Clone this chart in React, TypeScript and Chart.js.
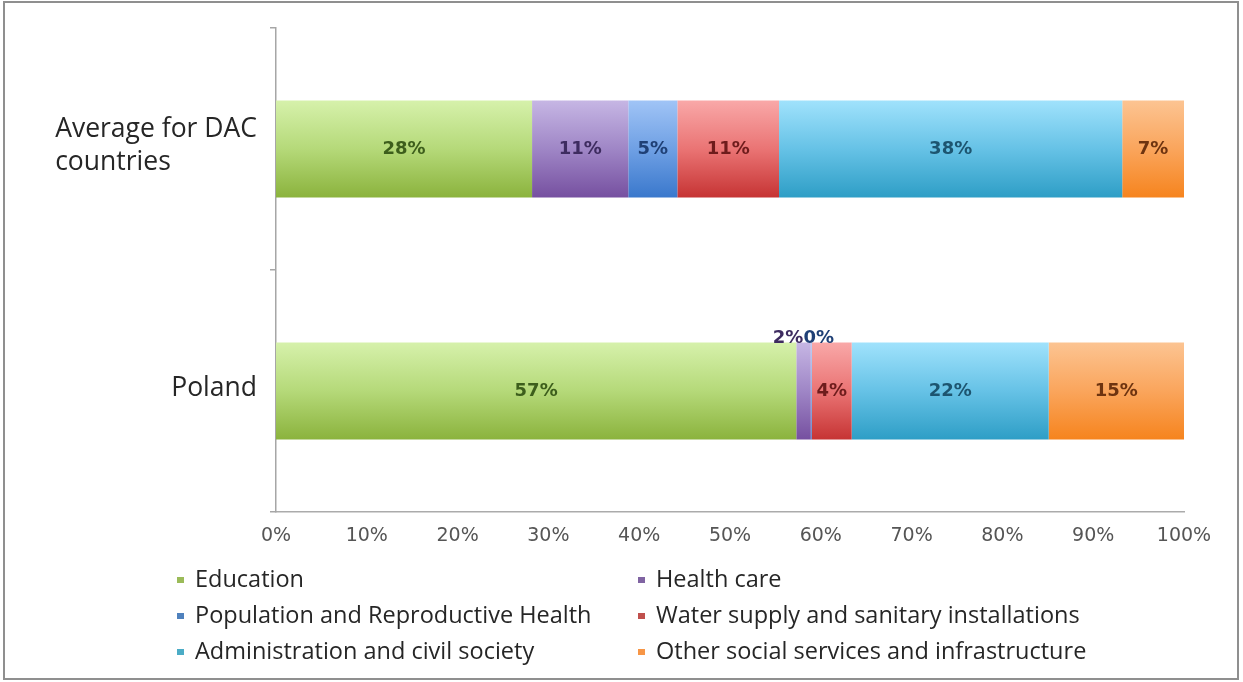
import React, { useEffect, useRef } from "react";
import { Chart, registerables } from "chart.js";

Chart.register(...registerables);

// Categories (multi-line labels are arrays of lines)
const categories: string[][] = [["Average for DAC", "countries"], ["Poland"]];

// Share of each sector in social-infrastructure aid, in percent
const education = [28.2, 57.3];
const healthCare = [10.6, 1.6];
const population = [5.4, 0.1];
const waterSupply = [11.2, 4.4];
const administration = [37.8, 21.7];
const otherServices = [6.8, 14.9];

const seriesNames = [
  "Education",
  "Health care",
  "Population and Reproductive Health",
  "Water supply and sanitary installations",
  "Administration and civil society",
  "Other social services and infrastructure",
];

const xTickValues = [0, 10, 20, 30, 40, 50, 60, 70, 80, 90, 100];

// light top / mid / dark bottom gradient stops per series
const gradients = [
  ["#d6f1ab", "#b5d979", "#8bb33d"],
  ["#c6b6e4", "#9f86c6", "#7650a0"],
  ["#a0c4f6", "#6fa0e4", "#3a78cc"],
  ["#f9a8a8", "#ea7474", "#c63434"],
  ["#a0e2fc", "#66c2e6", "#2e9ec6"],
  ["#fcc492", "#faa55c", "#f6841e"],
];
const legendColors = ["#9bbb59", "#8064a2", "#4f81bd", "#c0504d", "#4bacc6", "#f79646"];
const labelColors = ["#3d5e1c", "#3e2c60", "#1f4076", "#6e1c1c", "#1d5570", "#6e3410"];

const BAR_FRACTION = 0.4;

function barGradient(stops: string[]) {
  return (ctx: any) => {
    const chart = ctx.chart;
    const ys = chart.scales && chart.scales.y;
    if (!ys || ctx.dataIndex === undefined || ys.bottom === undefined) return stops[1];
    const center = ys.getPixelForValue(ctx.dataIndex);
    const band = (ys.bottom - ys.top) / chart.data.labels.length;
    const half = (band * BAR_FRACTION) / 2;
    const g = chart.ctx.createLinearGradient(0, center - half, 0, center + half);
    g.addColorStop(0, stops[0]);
    g.addColorStop(0.5, stops[1]);
    g.addColorStop(1, stops[2]);
    return g;
  };
}

// Category labels: block right-aligned next to the axis, lines left-aligned
const categoryLabelPlugin = {
  id: "categoryLabels",
  afterDraw(chart: any) {
    const { ctx, chartArea } = chart;
    const ys = chart.scales.y;
    ctx.save();
    ctx.font = '26.5px "Open Sans"';
    ctx.fillStyle = "#262626";
    ctx.textBaseline = "middle";
    ctx.textAlign = "left";
    const lineHeight = 33;
    categories.forEach((lines, i) => {
      const maxW = Math.max(...lines.map((l) => ctx.measureText(l).width));
      const x = chartArea.left - 19 - maxW;
      const cy = ys.getPixelForValue(i) - 3;
      const startY = cy - ((lines.length - 1) * lineHeight) / 2;
      lines.forEach((l, k) => ctx.fillText(l, x, startY + k * lineHeight));
    });
    ctx.restore();
  },
};

// Value labels inside the bars; narrow bars get their label above the bar
const valueLabelPlugin = {
  id: "valueLabels",
  afterDatasetsDraw(chart: any) {
    const { ctx } = chart;
    ctx.save();
    ctx.font = 'bold 18px "DejaVu Sans"';
    ctx.textBaseline = "middle";
    ctx.textAlign = "center";
    const above: any[][] = chart.data.labels.map(() => []);
    chart.data.datasets.forEach((ds: any, di: number) => {
      const meta = chart.getDatasetMeta(di);
      meta.data.forEach((bar: any, i: number) => {
        const v = ds.data[i];
        const text = Math.round(v) + "%";
        const w = ctx.measureText(text).width;
        const left = Math.min(bar.x, bar.base);
        const right = Math.max(bar.x, bar.base);
        const cx = (left + right) / 2;
        if (right - left > w + 4) {
          ctx.fillStyle = labelColors[di];
          ctx.fillText(text, cx, bar.y);
        } else {
          above[i].push({ text, cx, w, y: bar.y - bar.height / 2 - 4, color: labelColors[di] });
        }
      });
    });
    above.forEach((items) => {
      for (let k = 1; k < items.length; k++) {
        const a = items[k - 1];
        const b = items[k];
        const need = (a.w + b.w) / 2;
        if (b.cx - a.cx < need) {
          const mid = (a.cx + b.cx) / 2;
          a.cx = mid - need / 2 - 4;
          b.cx = mid + need / 2 - 4;
        }
      }
      items.forEach((it) => {
        ctx.fillStyle = it.color;
        ctx.fillText(it.text, it.cx, it.y);
      });
    });
    ctx.restore();
  },
};

// Two-column legend under the axis
const gridLegendPlugin = {
  id: "gridLegend",
  afterDraw(chart: any) {
    const { ctx } = chart;
    const cols = [177, 638];
    const rows = [580, 616, 652];
    ctx.save();
    ctx.font = '23.5px "Open Sans"';
    ctx.textBaseline = "middle";
    ctx.textAlign = "left";
    seriesNames.forEach((name, i) => {
      const col = i % 2;
      const row = Math.floor(i / 2);
      const x = cols[col];
      const y = rows[row];
      ctx.fillStyle = legendColors[i];
      ctx.fillRect(x, y - 3, 7, 6);
      ctx.fillStyle = "#262626";
      ctx.fillText(name, x + 18, y);
    });
    ctx.restore();
  },
};

export default function App() {
  const canvasRef = useRef<HTMLCanvasElement | null>(null);

  useEffect(() => {
    const canvas = canvasRef.current;
    if (!canvas) return;
    const series = [education, healthCare, population, waterSupply, administration, otherServices];
    const chart = new Chart(canvas, {
      type: "bar",
      data: {
        labels: categories,
        datasets: series.map((data, i) => ({
          label: seriesNames[i],
          data,
          backgroundColor: barGradient(gradients[i]),
          borderWidth: 0,
          categoryPercentage: 0.8,
          barPercentage: BAR_FRACTION / 0.8,
        })),
      },
      options: {
        indexAxis: "y",
        responsive: false,
        animation: false,
        layout: { padding: { top: 28, right: 59, left: 0, bottom: 0 } },
        plugins: {
          legend: { display: false },
          tooltip: { enabled: false },
        },
        scales: {
          x: {
            stacked: true,
            min: 0,
            max: 100,
            afterBuildTicks: (scale: any) => {
              scale.ticks = xTickValues.map((v) => ({ value: v }));
            },
            afterFit: (scale: any) => {
              scale.height = 170;
            },
            grid: { display: false, drawTicks: false },
            border: { display: true, color: "#ababab", width: 1.5 },
            ticks: {
              padding: 13,
              color: "#555555",
              font: { family: "DejaVu Sans", size: 19 },
              callback: (v: any) => v + "%",
            },
          },
          y: {
            stacked: true,
            afterFit: (scale: any) => {
              scale.width = 276;
            },
            grid: {
              display: true,
              offset: true,
              drawOnChartArea: false,
              drawTicks: true,
              tickLength: 6,
              color: "#a6a6a6",
              lineWidth: 1.5,
            },
            border: { display: true, color: "#a6a6a6", width: 1.5 },
            ticks: { display: false },
          },
        },
      },
      plugins: [valueLabelPlugin, categoryLabelPlugin, gridLegendPlugin],
    });
    return () => chart.destroy();
  }, []);

  return (
    <div style={{ position: "fixed", left: 0, top: 0, width: 1243, height: 682, background: "#ffffff" }}>
      <canvas ref={canvasRef} width={1243} height={682} style={{ display: "block" }} />
      <div
        style={{
          position: "absolute",
          left: 3,
          top: 1,
          width: 1236,
          height: 679,
          border: "2px solid #8f8f8f",
          boxSizing: "border-box",
          pointerEvents: "none",
        }}
      />
    </div>
  );
}
